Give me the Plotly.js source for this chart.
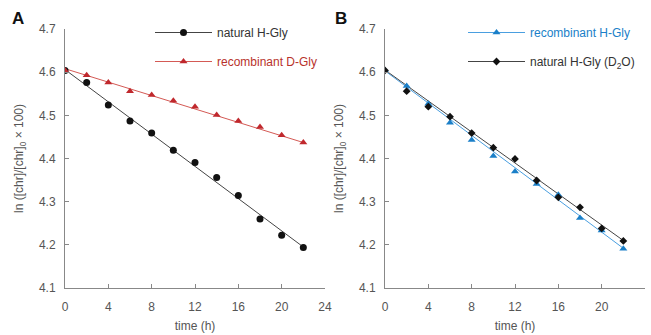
<!DOCTYPE html>
<html>
<head>
<meta charset="utf-8">
<script src="https://cdn.plot.ly/plotly-3.0.1.min.js"></script>
<style>html,body{margin:0;padding:0;background:#fff;}#chart{width:651px;height:335px;}</style>
</head>
<body>
<div id="chart"></div>
<script>
// ---- data ----
var timeH = [0, 2, 4, 6, 8, 10, 12, 14, 16, 18, 20, 22];
// Panel A
var naturalHGly = [4.604, 4.576, 4.524, 4.487, 4.459, 4.419, 4.391, 4.356, 4.314, 4.260, 4.222, 4.194];
var recombDGly  = [4.604, 4.593, 4.576, 4.556, 4.547, 4.534, 4.520, 4.501, 4.487, 4.473, 4.454, 4.437];
// Panel B
var recombHGly   = [4.604, 4.568, 4.527, 4.483, 4.443, 4.406, 4.370, 4.341, 4.316, 4.262, 4.233, 4.191];
var naturalD2O   = [4.604, 4.556, 4.520, 4.497, 4.459, 4.425, 4.399, 4.349, 4.310, 4.287, 4.238, 4.209];
// fitted lines (endpoints)
var fitT = [0, 22];
var fitNaturalHGly = [4.606, 4.195];
var fitRecombDGly  = [4.608, 4.437];
var fitRecombHGly  = [4.603, 4.192];
var fitNaturalD2O  = [4.605, 4.210];
var xTicks = [0, 4, 8, 12, 16, 20, 24];
var yTicks = [4.1, 4.2, 4.3, 4.4, 4.5, 4.6, 4.7];
var seriesNames = ['natural H-Gly', 'recombinant D-Gly', 'recombinant H-Gly', 'natural H-Gly (D<sub>2</sub>O)'];

var FONT = 'Liberation Sans, Arial, Helvetica, sans-serif';
var cBlack = '#111111', cBlackLine = '#444444';
var cRed = '#c0282d', cRedLine = '#d45a55';
var cBlue = '#1a7fc8', cBlueLine = '#4a9fe0';

function fitTrace(y, color, xa, ya) {
  return {x: fitT, y: y, mode: 'lines', line: {color: color, width: 1}, xaxis: xa, yaxis: ya,
          showlegend: false, hoverinfo: 'skip'};
}
function dataTrace(y, sym, size, color, xa, ya) {
  return {x: timeH, y: y, mode: 'markers', marker: {symbol: sym, size: size, color: color},
          xaxis: xa, yaxis: ya, showlegend: false};
}
// legend entries (no data drawn; sample shows line + marker)
function legendTrace(name, textColor, sym, size, color, lineColor, xa, ya, leg, grp) {
  return {x: [null], y: [null], mode: 'lines+markers',
          name: '<span style="color:' + textColor + '">' + name + '</span>',
          marker: {symbol: sym, size: size, color: color}, line: {color: lineColor, width: 1},
          xaxis: xa, yaxis: ya, legend: leg, legendgroup: grp, showlegend: true};
}

var traces = [
  fitTrace(fitNaturalHGly, cBlackLine, 'x', 'y'),
  fitTrace(fitRecombDGly, cRedLine, 'x', 'y'),
  fitTrace(fitRecombHGly, cBlueLine, 'x2', 'y2'),
  fitTrace(fitNaturalD2O, cBlackLine, 'x2', 'y2'),
  dataTrace(naturalHGly, 'circle', 7, cBlack, 'x', 'y'),
  dataTrace(recombDGly, 'triangle-up', 7, cRed, 'x', 'y'),
  dataTrace(recombHGly, 'triangle-up', 7, cBlue, 'x2', 'y2'),
  dataTrace(naturalD2O, 'diamond', 6, cBlack, 'x2', 'y2'),
  legendTrace(seriesNames[0], '#333', 'circle', 7, cBlack, cBlackLine, 'x', 'y', 'legend', 'a1'),
  legendTrace(seriesNames[1], '#b8322c', 'triangle-up', 7, cRed, cRedLine, 'x', 'y', 'legend', 'a2'),
  legendTrace(seriesNames[2], '#1a7fc8', 'triangle-up', 7, cBlue, cBlueLine, 'x2', 'y2', 'legend2', 'b1'),
  legendTrace(seriesNames[3], '#333', 'diamond', 6, cBlack, cBlackLine, 'x2', 'y2', 'legend2', 'b2')
];

function xAxis(domain, anchor) {
  return {domain: domain, anchor: anchor, range: [0, 24], tickvals: xTicks, ticktext: xTicks.map(String),
    ticks: 'inside', ticklen: 4, tickcolor: '#888', showline: true, linecolor: '#888', linewidth: 1,
    showgrid: false, zeroline: false, tickfont: {family: FONT, size: 12, color: '#555'},
    ticklabelstandoff: 8, automargin: false,
    title: {text: 'time (h)', font: {family: FONT, size: 12, color: '#555'}, standoff: 8}};
}
function yAxis(domain, anchor) {
  return {domain: domain, anchor: anchor, range: [4.1, 4.7], tickvals: yTicks, ticktext: yTicks.map(function(v){return v.toFixed(1);}),
    ticks: 'inside', ticklen: 4, tickcolor: '#888', showline: true, linecolor: '#888', linewidth: 1,
    showgrid: false, zeroline: false, tickfont: {family: FONT, size: 12, color: '#555'},
    ticklabelstandoff: 6, automargin: false,
    title: {text: 'ln ([chr]/[chr]<sub>0</sub> × 100)', font: {family: FONT, size: 12, color: '#555'}, standoff: 12}};
}

var yDom = [47/335, 306/335];
var layout = {
  width: 651, height: 335,
  margin: {l: 0, r: 0, t: 0, b: 0},
  paper_bgcolor: '#fff', plot_bgcolor: '#fff',
  font: {family: FONT, color: '#333'},
  xaxis: xAxis([65/651, 325/651], 'y'),
  yaxis: yAxis(yDom, 'x'),
  xaxis2: xAxis([385/651, 645/651], 'y2'),
  yaxis2: yAxis(yDom, 'x2'),
  legend: {x: 150/651, y: 1 - 18/335, xanchor: 'left', yanchor: 'top', bgcolor: 'rgba(0,0,0,0)',
           font: {family: FONT, size: 12, color: '#333'}, tracegroupgap: 10, itemwidth: 57},
  legend2: {x: 463/651, y: 1 - 18/335, xanchor: 'left', yanchor: 'top', bgcolor: 'rgba(0,0,0,0)',
           font: {family: FONT, size: 12, color: '#333'}, tracegroupgap: 10, itemwidth: 57},
  annotations: [
    {text: '<b>A</b>', x: 10/651, y: 1 - 18/335, xref: 'paper', yref: 'paper', xanchor: 'left', yanchor: 'middle',
     showarrow: false, font: {family: FONT, size: 17, color: '#111'}},
    {text: '<b>B</b>', x: 333/651, y: 1 - 18/335, xref: 'paper', yref: 'paper', xanchor: 'left', yanchor: 'middle',
     showarrow: false, font: {family: FONT, size: 17, color: '#111'}}
  ],
  showlegend: true
};

Plotly.newPlot('chart', traces, layout, {displayModeBar: false, staticPlot: true});
</script>
</body>
</html>
